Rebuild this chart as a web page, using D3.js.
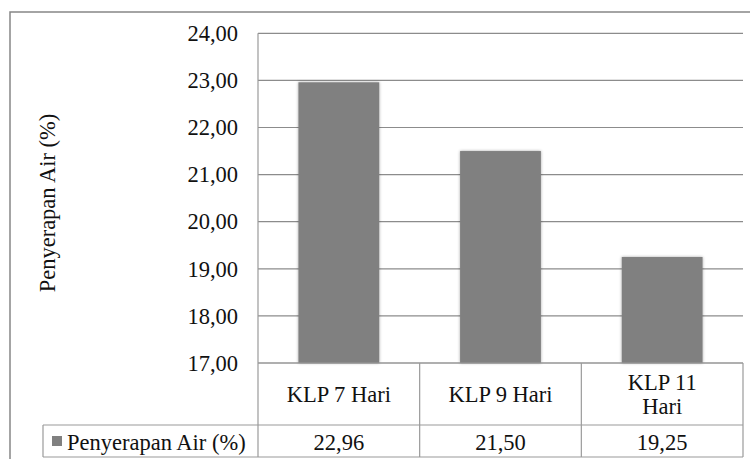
<!DOCTYPE html>
<html>
<head>
<meta charset="utf-8">
<script src="https://cdn.jsdelivr.net/npm/d3@7/dist/d3.min.js"></script>
<style>
  html, body { margin: 0; padding: 0; background: #fff; }
  svg { display: block; }
  svg text, svg tspan { font-family: "Liberation Serif" !important; }
</style>
</head>
<body>
<svg id="chart" width="750" height="459"></svg>
<script>
// ---- data ----
const categories = ["KLP 7 Hari", "KLP 9 Hari", "KLP 11 Hari"];
const categoryLines = [["KLP 7 Hari"], ["KLP 9 Hari"], ["KLP 11", "Hari"]];
const values = [22.96, 21.50, 19.25];
const valueLabels = ["22,96", "21,50", "19,25"];
const seriesName = "Penyerapan Air (%)";
const yTicks = [17, 18, 19, 20, 21, 22, 23, 24];
const yLabel = "Penyerapan Air (%)";

// ---- layout ----
const FONT = "Liberation Serif";
const FS = 22.5;
const svg = d3.select("#chart");
const plotLeft = 258, plotRight = 743, plotTop = 33.3, plotBottom = 363;
const catRowBottom = 425, valRowBottom = 457, tableLeft = 43;
const gridColor = "#8c8c8c", tableColor = "#9a9a9a";
const fmt = v => v.toFixed(2).replace(".", ",");
const styleText = sel => sel.attr("font-family", FONT).attr("font-size", FS).attr("fill", "#111")
  .style("font-family", FONT, "important");

const defs = svg.append("defs");
const f = defs.append("filter").attr("id", "shadow")
  .attr("x", "-20%").attr("y", "-20%").attr("width", "140%").attr("height", "140%");
f.append("feDropShadow").attr("dx", 0).attr("dy", 0).attr("stdDeviation", 1.6)
  .attr("flood-color", "#000").attr("flood-opacity", 0.35);

// outer chart border
svg.append("rect").attr("x", 10).attr("y", 12).attr("width", 760).attr("height", 470)
  .attr("fill", "none").attr("stroke", "#868686").attr("stroke-width", 1.5);

const y = d3.scaleLinear().domain([17, 24]).range([plotBottom, plotTop]);
const x = d3.scaleBand().domain(categories).range([plotLeft, plotRight])
  .paddingInner(0.5).paddingOuter(0.25);
const xCell = d3.scaleBand().domain(categories).range([plotLeft, plotRight]).padding(0);

// gridlines
svg.append("g").selectAll("line").data(yTicks).join("line")
  .attr("x1", plotLeft).attr("x2", plotRight)
  .attr("y1", d => y(d)).attr("y2", d => y(d))
  .attr("stroke", gridColor).attr("stroke-width", 1.2);

// y axis with labels
const yAxis = d3.axisLeft(y).tickValues(yTicks).tickFormat(fmt).tickSize(0).tickPadding(20);
const ya = svg.append("g").attr("transform", `translate(${plotLeft},0)`).call(yAxis);
ya.attr("font-family", FONT).attr("font-size", FS);
ya.select(".domain").remove();
ya.selectAll("text").call(styleText);

// bars
svg.append("g").selectAll("rect").data(values).join("rect")
  .attr("x", (d, i) => x(categories[i]))
  .attr("width", x.bandwidth())
  .attr("y", d => y(d))
  .attr("height", d => y(17) - y(d))
  .attr("fill", "#808080")
  .attr("filter", "url(#shadow)");

// table lines
const tl = svg.append("g").attr("stroke", tableColor).attr("stroke-width", 1.2);
tl.append("line").attr("x1", plotLeft).attr("x2", plotLeft).attr("y1", plotTop).attr("y2", valRowBottom);
tl.append("line").attr("x1", plotLeft).attr("x2", plotRight).attr("y1", plotBottom).attr("y2", plotBottom);
tl.append("line").attr("x1", tableLeft).attr("x2", plotRight).attr("y1", catRowBottom).attr("y2", catRowBottom);
tl.append("line").attr("x1", tableLeft).attr("x2", plotRight).attr("y1", valRowBottom).attr("y2", valRowBottom);
tl.append("line").attr("x1", tableLeft).attr("x2", tableLeft).attr("y1", catRowBottom).attr("y2", valRowBottom);
tl.selectAll("line.sep").data(categories).join("line").attr("class", "sep")
  .attr("x1", d => xCell(d) + xCell.bandwidth()).attr("x2", d => xCell(d) + xCell.bandwidth())
  .attr("y1", plotBottom).attr("y2", valRowBottom);

// category labels
const cat = svg.append("g").selectAll("text").data(categoryLines).join("text")
  .attr("text-anchor", "middle").call(styleText);
cat.each(function(lines, i) {
  const t = d3.select(this);
  const cx = xCell(categories[i]) + xCell.bandwidth() / 2;
  const startY = lines.length === 1 ? 402 : 389.5;
  lines.forEach((ln, j) => {
    t.append("tspan").attr("x", cx).attr("y", startY + j * 24).text(ln);
  });
});

// value labels
svg.append("g").selectAll("text").data(valueLabels).join("text")
  .attr("x", (d, i) => xCell(categories[i]) + xCell.bandwidth() / 2)
  .attr("y", 450).attr("text-anchor", "middle").call(styleText)
  .text(d => d);

// legend key in table
svg.append("rect").attr("x", 52).attr("y", 436).attr("width", 10).attr("height", 10).attr("fill", "#808080");
svg.append("text").attr("x", 67).attr("y", 450).call(styleText).text(seriesName);

// y axis title
svg.append("text").attr("transform", "translate(55,203) rotate(-90)")
  .attr("text-anchor", "middle").call(styleText).text(yLabel);
</script>
</body>
</html>
